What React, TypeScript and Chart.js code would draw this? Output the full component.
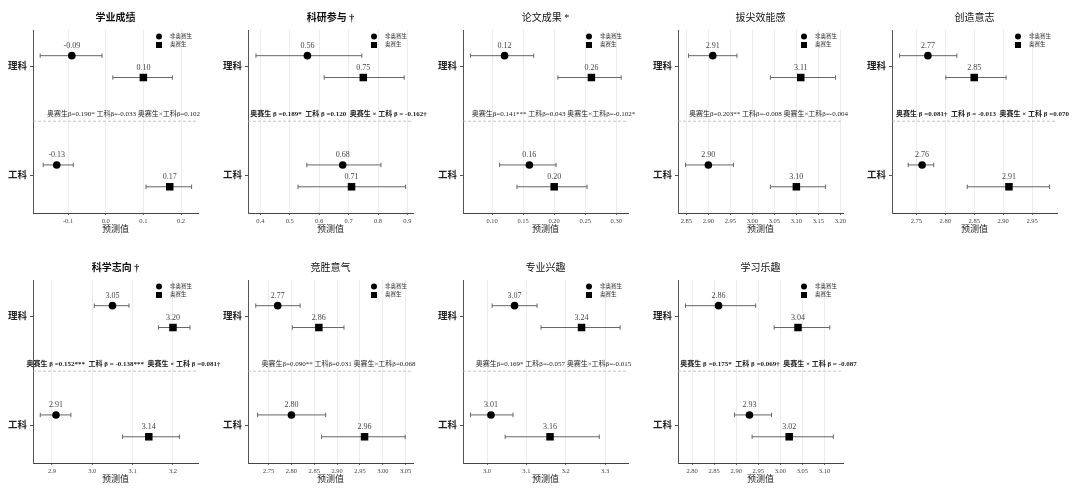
import React, { useEffect, useRef } from 'react';
import { Chart, registerables } from 'chart.js';

Chart.register(...registerables);

const FONT = "'Liberation Serif', 'Noto Sans CJK SC', serif";

// panel titles, in reading order (5 on top row, 4 below)
const panelTitles = ['学业成绩', '科研参与 †', '论文成果 *', '拔尖效能感', '创造意志', '科学志向 †', '竞胜意气', '专业兴趣', '学习乐趣'];
const boldTitle = [true, true, false, false, false, true, false, false, false];
const majors = ['理科', '工科'];
const majorPos = [2, 1];
const groups = ['非奥赛生', '奥赛生'];

// every entry: [理科, 工科]
const nonOlyMean = [[-0.09, -0.13], [0.56, 0.68], [0.12, 0.16], [2.91, 2.90], [2.77, 2.76], [3.05, 2.91], [2.77, 2.80], [3.07, 3.01], [2.86, 2.93]];
const nonOlyLow = [[-0.174, -0.166], [0.385, 0.558], [0.065, 0.112], [2.855, 2.848], [2.721, 2.736], [3.005, 2.871], [2.722, 2.726], [3.013, 2.958], [2.785, 2.896]];
const nonOlyHigh = [[-0.01, -0.086], [0.745, 0.81], [0.167, 0.203], [2.965, 2.957], [2.82, 2.78], [3.091, 2.947], [2.819, 2.875], [3.127, 3.066], [2.944, 2.98]];
const olyMean = [[0.10, 0.17], [0.75, 0.71], [0.26, 0.20], [3.11, 3.10], [2.85, 2.91], [3.20, 3.14], [2.86, 2.96], [3.24, 3.16], [3.04, 3.02]];
const olyLow = [[0.019, 0.107], [0.617, 0.528], [0.206, 0.14], [3.041, 3.041], [2.801, 2.838], [3.164, 3.075], [2.802, 2.866], [3.137, 3.046], [2.986, 2.936]];
const olyHigh = [[0.177, 0.228], [0.889, 0.894], [0.308, 0.253], [3.189, 3.166], [2.905, 2.98], [3.242, 3.216], [2.915, 3.049], [3.338, 3.285], [3.112, 3.12]];

const betaNotes = [
  '奥赛生β=0.190* 工科β=-0.033 奥赛生×工科β=0.102',
  '奥赛生 β =0.189*  工科 β =0.120  奥赛生 × 工科 β = -0.162†',
  '奥赛生β=0.141*** 工科β=0.043 奥赛生×工科β=-0.102*',
  '奥赛生β=0.203** 工科β=-0.008 奥赛生×工科β=-0.004',
  '奥赛生 β =0.081†  工科 β = -0.013  奥赛生 × 工科 β =0.070',
  '奥赛生 β =0.152***  工科 β = -0.138***  奥赛生 × 工科 β =0.081†',
  '奥赛生β=0.090** 工科β=0.031 奥赛生×工科β=0.068',
  '奥赛生β=0.169* 工科β=-0.057 奥赛生×工科β=-0.015',
  '奥赛生 β =0.175*  工科 β =0.069†  奥赛生 × 工科 β = -0.087',
];
const boldNote = [false, true, false, false, true, true, false, false, true];

const xTicks = [
  [-0.1, 0.0, 0.1, 0.2],
  [0.4, 0.5, 0.6, 0.7, 0.8, 0.9],
  [0.10, 0.15, 0.20, 0.25, 0.30],
  [2.85, 2.90, 2.95, 3.00, 3.05, 3.10, 3.15, 3.20],
  [2.75, 2.80, 2.85, 2.90, 2.95],
  [2.9, 3.0, 3.1, 3.2],
  [2.75, 2.80, 2.85, 2.90, 2.95, 3.00, 3.05],
  [3.0, 3.1, 3.2, 3.3],
  [2.80, 2.85, 2.90, 2.95, 3.00, 3.05, 3.10],
];
const tickDecimals = [1, 1, 2, 2, 2, 1, 2, 1, 2];
const xRange = [[-0.193, 0.245], [0.358, 0.919], [0.053, 0.319], [2.831, 3.206], [2.708, 2.993], [2.853, 3.262], [2.705, 3.066], [2.939, 3.358], [2.768, 3.142]];

const CANVAS_W = 230;
const CANVAS_H = 248;
const colLeft = [0, 215, 430, 645, 859];

const decor = (p: number) => ({
  id: 'decor',
  beforeDatasetsDraw(chart: any) {
    const { ctx, chartArea: a, scales } = chart;
    const y = scales.y.getPixelForValue(1.5);
    ctx.save();
    ctx.strokeStyle = '#b8b8b8';
    ctx.lineWidth = 0.8;
    ctx.setLineDash([3, 2]);
    ctx.beginPath();
    ctx.moveTo(a.left, y);
    ctx.lineTo(a.right, y);
    ctx.stroke();
    ctx.restore();
  },
  afterDatasetsDraw(chart: any) {
    const { ctx, chartArea: a, scales } = chart;
    ctx.save();
    // numbers above the points
    ctx.font = `8px ${FONT}`;
    ctx.fillStyle = '#444';
    ctx.textAlign = 'center';
    ctx.textBaseline = 'middle';
    chart.data.datasets.forEach((ds: any, di: number) => {
      if (!ds.valueLabels) return;
      chart.getDatasetMeta(di).data.forEach((el: any, k: number) => {
        ctx.fillText(ds.data[k].x.toFixed(2), el.x, el.y - 10);
      });
    });
    // regression note
    const sy = scales.y.getPixelForValue(1.5);
    ctx.font = `${boldNote[p] ? 'bold ' : ''}7px ${FONT}`;
    ctx.fillStyle = '#222';
    ctx.fillText(betaNotes[p], (a.left + a.right) / 2 + 8, sy - 7);
    // legend
    const lx = a.right - 39;
    ctx.fillStyle = '#000';
    ctx.beginPath();
    ctx.arc(lx, a.top + 6.5, 3, 0, Math.PI * 2);
    ctx.fill();
    ctx.fillRect(lx - 3, a.top + 12, 6, 6);
    ctx.font = `5.5px ${FONT}`;
    ctx.fillStyle = '#333';
    ctx.textAlign = 'left';
    ctx.fillText(groups[0], lx + 11, a.top + 6.5);
    ctx.fillText(groups[1], lx + 11, a.top + 15);
    ctx.restore();
  },
});

const ciSet = (lo: number, hi: number, y: number) => ({
  data: [{ x: lo, y }, { x: hi, y }],
  showLine: true,
  borderColor: '#666',
  borderWidth: 1,
  pointStyle: 'line',
  pointRotation: 90,
  pointRadius: 2.2,
  pointBorderColor: '#666',
  pointBorderWidth: 1,
  order: 1,
});

const buildChart = (canvas: HTMLCanvasElement, p: number) => {
  const datasets: any[] = [];
  majors.forEach((_, m) => {
    datasets.push(ciSet(nonOlyLow[p][m], nonOlyHigh[p][m], majorPos[m] + 0.1));
    datasets.push(ciSet(olyLow[p][m], olyHigh[p][m], majorPos[m] - 0.1));
  });
  datasets.push({
    label: groups[0],
    data: majors.map((_, m) => ({ x: nonOlyMean[p][m], y: majorPos[m] + 0.1 })),
    pointStyle: 'circle',
    pointRadius: 3.8,
    pointBackgroundColor: '#000',
    pointBorderColor: '#000',
    pointBorderWidth: 0,
    valueLabels: true,
    order: 0,
  });
  datasets.push({
    label: groups[1],
    data: majors.map((_, m) => ({ x: olyMean[p][m], y: majorPos[m] - 0.1 })),
    pointStyle: 'rect',
    pointRadius: 5.3,
    pointBackgroundColor: '#000',
    pointBorderColor: '#000',
    pointBorderWidth: 0,
    valueLabels: true,
    order: 0,
  });

  return new Chart(canvas, {
    type: 'scatter',
    data: { datasets },
    options: {
      animation: false,
      responsive: false,
      events: [],
      layout: { padding: { left: 0, right: CANVAS_W - 198, top: 0, bottom: 0 } },
      plugins: {
        legend: { display: false },
        tooltip: { enabled: false },
        title: {
          display: true,
          text: panelTitles[p],
          fullSize: false,
          color: '#111',
          font: { family: FONT, size: 10, weight: boldTitle[p] ? 'bold' : 'normal' },
          padding: { top: 12, bottom: 6 },
        },
      },
      scales: {
        x: {
          type: 'linear',
          min: xRange[p][0],
          max: xRange[p][1],
          afterBuildTicks: (axis: any) => {
            axis.ticks = xTicks[p].map((v) => ({ value: v }));
          },
          afterFit: (axis: any) => {
            axis.height = 35;
          },
          ticks: {
            autoSkip: false,
            maxRotation: 0,
            padding: 2,
            color: '#444',
            font: { family: FONT, size: 6.5 },
            callback: (v: any) => Number(v).toFixed(tickDecimals[p]),
          },
          grid: { color: 'rgba(0,0,0,0.07)', tickColor: '#666', tickLength: 2 },
          border: { display: true, color: '#444', width: 1 },
          title: {
            display: true,
            text: '预测值',
            color: '#222',
            font: { family: FONT, size: 9 },
            padding: { top: 0, bottom: 12.5 },
          },
        },
        y: {
          type: 'linear',
          min: 0.66,
          max: 2.335,
          afterBuildTicks: (axis: any) => {
            axis.ticks = majorPos.map((v) => ({ value: v }));
          },
          afterFit: (axis: any) => {
            axis.width = 33;
          },
          ticks: {
            padding: 3,
            color: '#222',
            font: { family: FONT, size: 9.5, weight: 'bold' },
            callback: (v: any) => majors[majorPos.indexOf(Number(v))],
          },
          grid: { drawOnChartArea: false, tickColor: '#555', tickLength: 3 },
          border: { display: true, color: '#555', width: 1 },
        },
      },
    },
    plugins: [decor(p)],
  } as any);
};

export default function App() {
  const refs = useRef<(HTMLCanvasElement | null)[]>([]);

  useEffect(() => {
    const charts: Chart[] = [];
    panelTitles.forEach((_, p) => {
      const c = refs.current[p];
      if (c) charts.push(buildChart(c, p));
    });
    return () => {
      charts.forEach((ch) => ch.destroy());
    };
  }, []);

  return (
    <div style={{ position: 'absolute', left: 0, top: 0, width: 1080, height: 497, background: '#fff', overflow: 'hidden' }}>
      {panelTitles.map((t, p) => {
        const row = p < 5 ? 0 : 1;
        const col = p < 5 ? p : p - 5;
        return (
          <canvas
            key={t}
            ref={(el) => {
              refs.current[p] = el;
            }}
            width={CANVAS_W}
            height={CANVAS_H}
            style={{ position: 'absolute', left: colLeft[col], top: row * 250, width: CANVAS_W, height: CANVAS_H }}
          />
        );
      })}
    </div>
  );
}
